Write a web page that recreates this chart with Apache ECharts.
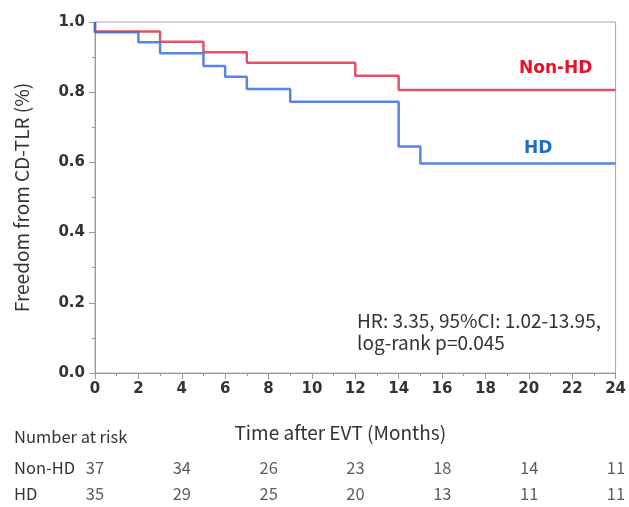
<!DOCTYPE html>
<html>
<head>
<meta charset="utf-8">
<script src="https://cdn.jsdelivr.net/npm/echarts@6/dist/echarts.min.js"></script>
<style>
  html, body { margin: 0; padding: 0; background: #fff; }
  #main { width: 629px; height: 507px; }
</style>
</head>
<body>
<div id="main"></div>
<script>
// Kaplan-Meier steps
const nonHdTimes = [0, 3, 5, 7, 12, 14]
const nonHdSurv = [0.973, 0.944, 0.914, 0.884, 0.847, 0.806]
const hdTimes = [0, 2, 3, 5, 6, 7, 9, 14, 15]
const hdSurv = [0.971, 0.942, 0.911, 0.875, 0.844, 0.809, 0.773, 0.645, 0.597]
const endTime = 24

// number at risk table
const riskTimes = [0, 4, 8, 12, 16, 20, 24]
const riskGroups = ['HD', 'Non-HD']
const riskNonHd = [37, 34, 26, 23, 18, 14, 11]
const riskHd = [35, 29, 25, 20, 13, 11, 11]

const jpFont = '"Noto Sans CJK JP", "Noto Sans", sans-serif'

const stepPoints = (times, surv) => {
  const pts = [[0, 1.0]]
  times.forEach((t, i) => pts.push([t, surv[i]]))
  pts.push([endTime, surv[surv.length - 1]])
  return pts
}

const riskPoints = (vals, group) => vals.map((v, i) => [riskTimes[i], group, v])

const chart = echarts.init(document.getElementById('main'))

const option = {
  animation: false,
  grid: [
    { left: 95, right: 13, top: 22, bottom: 134, show: true, borderColor: '#aaa', borderWidth: 1 },
    { left: 95, right: 13, top: 454, height: 58 }
  ],
  xAxis: [
    {
      type: 'value',
      gridIndex: 0,
      min: 0,
      max: 24,
      interval: 2,
      name: 'Time after EVT (Months)',
      nameLocation: 'middle',
      nameGap: 50,
      nameTextStyle: { fontFamily: jpFont, fontSize: 19, color: '#333', padding: [0, 30, 0, 0] },
      axisLine: { lineStyle: { color: '#999' } },
      axisTick: { length: 6, lineStyle: { color: '#999' } },
      minorTick: { show: true, splitNumber: 2, length: 3, lineStyle: { color: '#999' } },
      splitLine: { show: false },
      axisLabel: { fontFamily: 'DejaVu Sans', fontWeight: 'bold', fontSize: 15, color: '#333', margin: 9 }
    },
    {
      type: 'value',
      gridIndex: 1,
      min: 0,
      max: 24,
      show: false
    }
  ],
  yAxis: [
    {
      type: 'value',
      gridIndex: 0,
      min: 0,
      max: 1,
      interval: 0.2,
      name: 'Freedom from CD-TLR (%)',
      nameLocation: 'middle',
      nameGap: 64,
      nameTextStyle: { fontFamily: jpFont, fontSize: 19, color: '#333' },
      axisLine: { show: true, lineStyle: { color: '#999' } },
      axisTick: { show: true, length: 6, lineStyle: { color: '#999' } },
      minorTick: { show: true, splitNumber: 2, length: 3, lineStyle: { color: '#999' } },
      splitLine: { show: false },
      axisLabel: {
        fontFamily: 'DejaVu Sans', fontWeight: 'bold', fontSize: 15, color: '#333', margin: 10,
        formatter: (v) => v.toFixed(1)
      }
    },
    {
      type: 'category',
      gridIndex: 1,
      data: riskGroups,
      axisLine: { show: false },
      axisTick: { show: false },
      axisLabel: { align: 'left', margin: 81, fontFamily: jpFont, fontSize: 16.5, color: '#333' }
    }
  ],
  graphic: [
    { type: 'text', left: 14, top: 428, style: { text: 'Number at risk', fontFamily: jpFont, fontSize: 16.5, fill: '#333' } },
    { type: 'text', left: 357, top: 310, style: { text: 'HR: 3.35, 95%CI: 1.02-13.95,\nlog-rank p=0.045', fontFamily: jpFont, fontSize: 19, lineHeight: 22, fill: '#333' } },
    { type: 'text', left: 519, top: 60, style: { text: 'Non-HD', fontFamily: 'DejaVu Sans', fontWeight: 'bold', fontSize: 17, fill: '#e8102a' } },
    { type: 'text', left: 524, top: 140, style: { text: 'HD', fontFamily: 'DejaVu Sans', fontWeight: 'bold', fontSize: 17, fill: '#1e6ec8' } }
  ],
  series: [
    {
      name: 'Non-HD',
      type: 'line',
      step: 'end',
      xAxisIndex: 0,
      yAxisIndex: 0,
      showSymbol: false,
      lineStyle: { color: 'rgba(224,64,86,0.9)', width: 2.5 },
      data: stepPoints(nonHdTimes, nonHdSurv)
    },
    {
      name: 'HD',
      type: 'line',
      step: 'end',
      xAxisIndex: 0,
      yAxisIndex: 0,
      showSymbol: false,
      lineStyle: { color: 'rgba(60,110,225,0.85)', width: 2.5 },
      data: stepPoints(hdTimes, hdSurv)
    },
    {
      type: 'scatter',
      xAxisIndex: 1,
      yAxisIndex: 1,
      symbolSize: 0,
      label: {
        show: true, position: 'inside', fontFamily: jpFont, fontSize: 16.5, color: '#333',
        formatter: (p) => String(p.value[2])
      },
      data: riskPoints(riskNonHd, 'Non-HD').concat(riskPoints(riskHd, 'HD'))
    }
  ]
}

chart.setOption(option)
</script>
</body>
</html>
